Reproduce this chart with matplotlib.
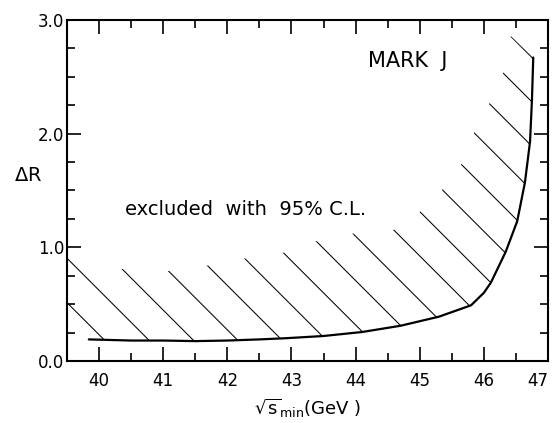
import numpy as np
import matplotlib
matplotlib.use('Agg')
import matplotlib.pyplot as plt
from matplotlib.patches import Polygon
from matplotlib.ticker import MultipleLocator, FormatStrFormatter

# Lower limit on Delta R versus sqrt(s)_min (MARK J)
sqrt_s = [39.84, 40.5, 41.0, 41.5, 42.0, 42.5, 42.9, 43.5, 44.1, 44.7, 45.3,
          45.8, 46.0, 46.11, 46.34, 46.52, 46.64, 46.72, 46.75, 46.77]
delta_r = [0.19, 0.18, 0.18, 0.175, 0.18, 0.19, 0.20, 0.22, 0.255, 0.31, 0.39,
           0.49, 0.60, 0.69, 0.96, 1.23, 1.57, 1.93, 2.30, 2.67]

# upper edge of the hatched (excluded) band
band_x = [39.5, 40.33, 41.06, 41.69, 42.25, 42.86, 43.36, 43.95, 44.58,
          44.98, 45.34, 45.64, 45.84, 46.09, 46.30, 46.42]
band_y = [0.92, 0.81, 0.79, 0.84, 0.90, 0.95, 1.05, 1.12, 1.15,
          1.30, 1.50, 1.72, 2.00, 2.27, 2.53, 2.86]

xmin, xmax = 39.5, 47.0
ymin, ymax = 0.0, 3.0

plt.rcParams['font.family'] = 'DejaVu Sans'
plt.rcParams['mathtext.fontset'] = 'dejavusans'

fig = plt.figure(figsize=(5.53, 4.23), dpi=100)
W, H = 553, 423
left, right, top, bottom = 67, 548, 20, 361
ax = fig.add_axes([left / W, 1 - bottom / H, (right - left) / W, (bottom - top) / H])
ax.set_xlim(xmin, xmax)
ax.set_ylim(ymin, ymax)

# excluded region: between the band edge and the limit curve
verts = list(zip(band_x, band_y)) + list(zip(sqrt_s[::-1], delta_r[::-1])) + [(xmin, delta_r[0])]
region = Polygon(verts, closed=True, fill=False, edgecolor='none')
ax.add_patch(region)

# hatch lines at 45 degrees on screen
px_x = (right - left) / (xmax - xmin)
px_y = (bottom - top) / (ymax - ymin)
slope = -px_x / px_y
xs = np.array([xmin, xmax + 5])
for x0 in np.arange(40.41 - 0.692, 52.0, 0.692):
    ln, = ax.plot(xs, slope * (xs - x0), color='black', lw=0.75)
    ln.set_clip_path(region)

ax.plot(sqrt_s, delta_r, color='black', lw=1.6, solid_capstyle='round')

ax.xaxis.set_major_locator(MultipleLocator(1))
ax.xaxis.set_minor_locator(MultipleLocator(0.5))
ax.yaxis.set_major_locator(MultipleLocator(1))
ax.yaxis.set_minor_locator(MultipleLocator(0.25))
ax.yaxis.set_major_formatter(FormatStrFormatter('%.1f'))
ax.tick_params(which='both', direction='in', top=True, right=True, width=1.2)
ax.tick_params(which='major', length=10, labelsize=12)
ax.tick_params(which='minor', length=5.5)
ax.tick_params(axis='x', pad=8)
ax.tick_params(axis='y', pad=2)
for s in ax.spines.values():
    s.set_linewidth(1.5)

# keep the label at the right edge on the page
fig.canvas.draw()
for tick in ax.xaxis.get_major_ticks():
    if abs(tick.get_loc() - xmax) < 1e-6:
        tick.label1.set_horizontalalignment('right')

ax.set_xlabel(r'$\sqrt{\mathrm{s}}_{\mathrm{min}}$(GeV )', fontsize=13, labelpad=5)
ax.set_ylabel(r'$\Delta$R', fontsize=14, rotation=0)
ax.yaxis.set_label_coords(-0.081, 0.516)

ax.text(44.81, 2.64, 'MARK  J', fontsize=15, ha='center', va='center')
ax.text(42.28, 1.33, 'excluded  with  95% C.L.', fontsize=14, ha='center', va='center')

fig.savefig('out.png', dpi=100)
